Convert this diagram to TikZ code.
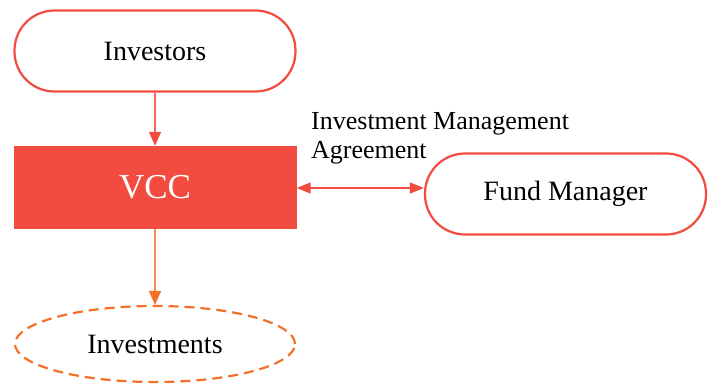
\documentclass[tikz,border=0pt]{standalone}
\usepackage{fontspec}
\setmainfont{Liberation Serif}
\usetikzlibrary{shapes.geometric,arrows.meta}
\definecolor{cred}{RGB}{242,76,64}
\definecolor{corange}{RGB}{243,112,40}
\definecolor{corangeline}{RGB}{246,140,90}
\tikzset{
  pill/.style={draw=cred, line width=2.2pt, rounded corners=40pt, fill=white, minimum width=281pt, minimum height=81pt, inner sep=0pt, font=\fontsize{28}{32}\selectfont},
  vccbox/.style={fill=cred, minimum width=283pt, minimum height=83pt, inner sep=0pt, text=white, font=\fontsize{35}{40}\selectfont},
  invest/.style={ellipse, draw=corange, line width=2.2pt, dash pattern=on 10pt off 6pt, minimum width=280pt, minimum height=76pt, inner sep=0pt, font=\fontsize{28}{32}\selectfont},
  redarrow/.style={draw=cred!85, line width=1.5pt, -{Triangle[length=14pt,width=12pt,fill=cred,color=cred]}},
  orarrow/.style={draw=corangeline, line width=1.5pt, -{Triangle[length=14pt,width=12pt,fill=corange,color=corange]}},
  dblarrow/.style={draw=cred, line width=1.5pt, {Triangle[length=14pt,width=11pt]}-{Triangle[length=14pt,width=11pt]}},
  lbl/.style={align=left, anchor=north west, inner sep=0pt, font=\fontsize{26}{29}\selectfont}
}
\begin{document}
\begin{tikzpicture}[x=1pt,y=-1pt]
\useasboundingbox (0,0) rectangle (715,383);
\node[pill] (investors) at (155,51) {Investors};
\node[vccbox] (vcc) at (155,187.5) {VCC};
\node[invest] (investments) at (155,344) {Investments};
\node[pill] (fund) at (565.5,194) {Fund Manager};
\node[lbl] (agree) at (311,112) {Investment Management\\Agreement};
\draw[redarrow] (investors.south) -- (vcc.north);
\draw[orarrow] (vcc.south) -- (investments.north);
\draw[dblarrow] (vcc.east |- 0,188) -- (fund.west |- 0,188);
\end{tikzpicture}
\end{document}
